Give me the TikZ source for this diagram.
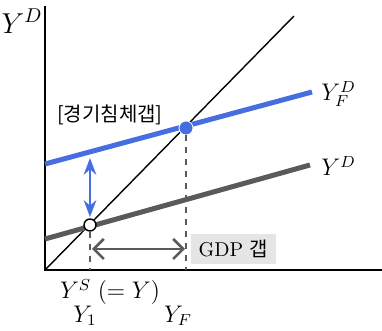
\documentclass[tikz,border=0pt]{standalone}
\usepackage{fontspec}
\newfontfamily\kr{Noto Sans CJK KR}
\usetikzlibrary{arrows.meta}
\definecolor{gapblue}{RGB}{70,110,225}
\definecolor{adgray}{RGB}{90,90,90}
\begin{document}
\begin{tikzpicture}[x=0.5pt, y=-0.5pt, >=Stealth]
    \useasboundingbox (0,0) rectangle (382,331);
    % 축
    \coordinate (O) at (45,270);
    \coordinate (ytop) at (45,6);
    \coordinate (xend) at (382,270);
    \draw[line width=1pt] (ytop) -- (O) -- (xend);
    \node (ylab) at (22,21) {\Large $Y^D$};

    % 45도선
    \coordinate (diagend) at (294,16);
    \draw[line width=0.7pt] (O) -- (diagend);

    % 총수요선
    \coordinate (fstart) at (45,164);
    \coordinate (fend) at (312,92);
    \coordinate (dstart) at (45,239);
    \coordinate (dend) at (310,165);
    \draw[gapblue, line width=2.5pt] (fstart) -- (fend);
    \draw[adgray, line width=2.5pt] (dstart) -- (dend);
    \node[anchor=west, inner sep=1pt] (yfd) at (319,94) {\large $Y_F^D$};
    \node[anchor=west, inner sep=1pt] (yd) at (319,166) {\large $Y^D$};

    % 균형점
    \node[draw=white, fill=gapblue, circle, inner sep=0pt, minimum size=7pt] (eF) at (186,128) {};
    \node[draw=black, fill=white, circle, line width=0.7pt, inner sep=0pt, minimum size=6pt] (e1) at (90,225) {};
    \coordinate (y1base) at (90,270);
    \coordinate (yfbase) at (186,270);
    \draw[dashed, adgray, line width=0.6pt] (e1) -- (y1base);
    \draw[dashed, adgray, line width=0.6pt] (eF) -- (yfbase);

    % 경기침체갭
    \coordinate (gtop) at (90,158);
    \coordinate (gbot) at (90,217);
    \draw[<->, gapblue, line width=1.2pt] (gtop) -- (gbot);
    \node (gaplab) at (110,115) {\kr [경기침체갭]};

    % GDP 갭
    \coordinate (pl) at (92,249);
    \coordinate (pr) at (185,249);
    \draw[{Straight Barb[length=5pt, width=10pt]}-{Straight Barb[length=5pt, width=10pt]}, adgray, line width=1.3pt] (pl) -- (pr);
    \node[fill=gray!20, minimum width=42.5pt, minimum height=15pt, inner sep=0pt] (gdp) at (233.5,249) {GDP {\kr 갭}};

    % x축 라벨
    \node[inner sep=0pt] (yslab) at (110,292) {\large $Y^S\;(=Y)$};
    \node[inner sep=0pt] (y1lab) at (85,316) {\large $Y_1$};
    \node[inner sep=0pt] (yflab) at (178,316) {\large $Y_F$};
\end{tikzpicture}
\end{document}
